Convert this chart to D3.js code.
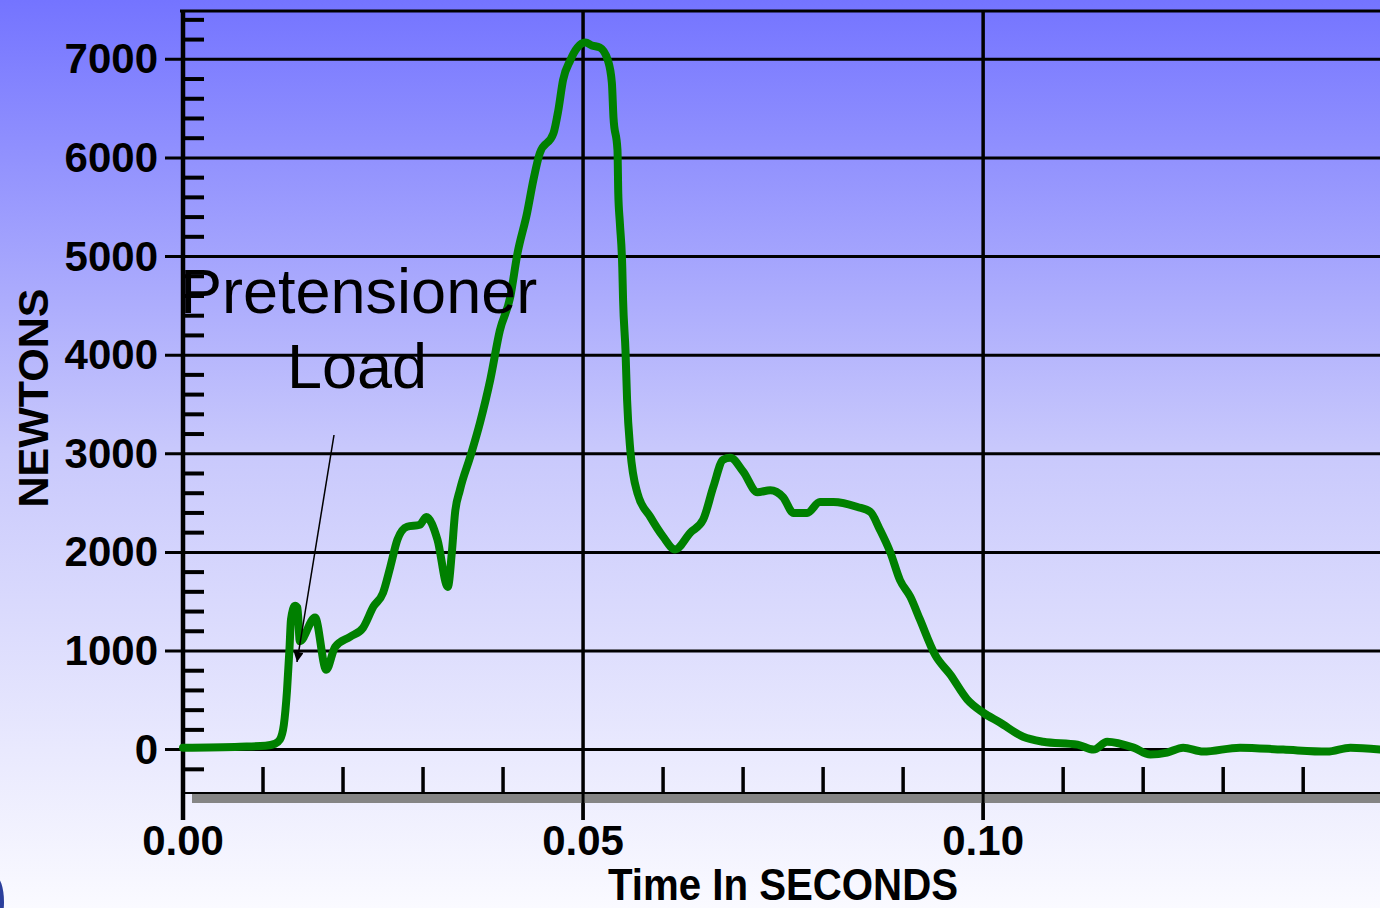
<!DOCTYPE html>
<html>
<head>
<meta charset="utf-8">
<script src="https://cdn.jsdelivr.net/npm/d3@7"></script>
<style>
  body { margin: 0; overflow: hidden; }
  text { font-family: "Liberation Sans", Arial, sans-serif; }
</style>
</head>
<body>
<div id="chart"></div>
<script>
var w = 1380, h = 908;

// Data ======================================================
var timeSec = [0, 0.0071, 0.0103, 0.0115, 0.0121, 0.0126, 0.0130, 0.0133, 0.0135, 0.0140, 0.0143,
  0.0146, 0.0165, 0.0179, 0.0190, 0.0209, 0.0225, 0.0238, 0.0250, 0.0259, 0.0268, 0.0280,
  0.0296, 0.0304, 0.0318, 0.0331, 0.0336, 0.0340, 0.0346, 0.0359, 0.0371, 0.0384, 0.0396,
  0.0409, 0.0418, 0.0430, 0.0438, 0.0446, 0.0463, 0.0469, 0.0475, 0.0484, 0.0493, 0.0503,
  0.0511, 0.0521, 0.0531, 0.0536, 0.0538, 0.0543, 0.0544, 0.0546, 0.0549, 0.0550, 0.0553,
  0.0555, 0.0559, 0.0568, 0.0584, 0.0600, 0.0615, 0.0634, 0.0650, 0.0663, 0.0675, 0.0684,
  0.0700, 0.0718, 0.0734, 0.0750, 0.0763, 0.0780, 0.0796, 0.0813, 0.0843, 0.0859, 0.0871,
  0.0884, 0.0896, 0.0909, 0.0921, 0.0940, 0.0959, 0.0980, 0.1000, 0.1021, 0.1050, 0.1075,
  0.1118, 0.1138, 0.1155, 0.1188, 0.1209, 0.1230, 0.1250, 0.1275, 0.1321, 0.1375, 0.1430,
  0.1459, 0.1496];
var newtons = [20, 30, 40, 60, 100, 250, 600, 1010, 1320, 1460, 1440,
  1100, 1340, 810, 1040, 1145, 1235, 1450, 1590, 1850, 2130, 2260,
  2280, 2360, 2130, 1650, 2000, 2400, 2630, 2970, 3310, 3750, 4250,
  4590, 5030, 5440, 5780, 6050, 6250, 6480, 6790, 6990, 7120, 7170,
  7140, 7120, 6990, 6760, 6410, 6080, 5640, 5340, 4890, 4560, 4050,
  3550, 3040, 2600, 2360, 2160, 2030, 2200, 2330, 2670, 2940, 2960,
  2820, 2610, 2630, 2560, 2400, 2400, 2510, 2510, 2460, 2410, 2230,
  2000, 1720, 1550, 1320, 960, 760, 510, 375, 275, 130, 80,
  50, 0, 80, 20, -50, -30, 20, -20, 20, 0, -20,
  20, 0];

var yMajor = [0, 1000, 2000, 3000, 4000, 5000, 6000, 7000];
var xMajor = [0, 0.05, 0.10];
var xLabels = ["0.00", "0.05", "0.10"];
var yMinor = d3.range(-200, 7500, 200).filter(function(v){ return v % 1000 !== 0; });
var xMinor = d3.range(1, 15).map(function(i){ return i / 100; }).filter(function(v){ return Math.abs(v - 0.05) > 1e-9 && Math.abs(v - 0.10) > 1e-9; });
// ===========================================================

var svg = d3.select('#chart')
            .append('svg')
            .attr('width', w)
            .attr('height', h);

// background gradient
var grad = svg.append('defs').append('linearGradient')
              .attr('id', 'bg').attr('x1', 0).attr('y1', 0).attr('x2', 0).attr('y2', 1);
grad.append('stop').attr('offset', '0%').attr('stop-color', '#7474ff');
grad.append('stop').attr('offset', '50%').attr('stop-color', '#c9c9fc');
grad.append('stop').attr('offset', '100%').attr('stop-color', '#fafaff');
svg.append('rect').attr('width', w).attr('height', h).attr('fill', 'url(#bg)');

var x = d3.scaleLinear().domain([0, 0.1496]).range([183, 1380]);
var y = d3.scaleLinear().domain([-440, 7500]).range([793, 10]);

// Grid ======================================================
svg.selectAll('.hgrid')
   .data(yMajor)
   .enter().append('line')
   .attr('x1', 165).attr('x2', w)
   .attr('y1', function(d){ return y(d); })
   .attr('y2', function(d){ return y(d); })
   .attr('stroke', 'black').attr('stroke-width', 3);

svg.append('line')
   .attr('x1', 180).attr('x2', w)
   .attr('y1', y(7500) + 1).attr('y2', y(7500) + 1)
   .attr('stroke', 'black').attr('stroke-width', 3);

svg.selectAll('.vgrid')
   .data(xMajor)
   .enter().append('line')
   .attr('x1', function(d){ return x(d); })
   .attr('x2', function(d){ return x(d); })
   .attr('y1', y(7500)).attr('y2', 820)
   .attr('stroke', 'black')
   .attr('stroke-width', function(d, i){ return i === 0 ? 4.5 : 3.5; });

// minor ticks
svg.selectAll('.ytick')
   .data(yMinor)
   .enter().append('line')
   .attr('x1', 182).attr('x2', 204)
   .attr('y1', function(d){ return y(d); })
   .attr('y2', function(d){ return y(d); })
   .attr('stroke', 'black').attr('stroke-width', 4);

svg.selectAll('.xtick')
   .data(xMinor)
   .enter().append('line')
   .attr('x1', function(d){ return x(d); })
   .attr('x2', function(d){ return x(d); })
   .attr('y1', 767).attr('y2', 793)
   .attr('stroke', 'black').attr('stroke-width', 3.5);

// bottom border + grey bar
svg.append('line')
   .attr('x1', 183).attr('x2', w)
   .attr('y1', 793).attr('y2', 793)
   .attr('stroke', 'black').attr('stroke-width', 2);
svg.append('rect')
   .attr('x', 192).attr('y', 794).attr('width', w - 192).attr('height', 9)
   .attr('fill', '#858585');
svg.selectAll('.vstub')
   .data(xMajor)
   .enter().append('line')
   .attr('x1', function(d){ return x(d); })
   .attr('x2', function(d){ return x(d); })
   .attr('y1', 794).attr('y2', 820)
   .attr('stroke', 'black').attr('stroke-width', 3);
// ===========================================================

// Labels ====================================================
svg.selectAll('.ylab')
   .data(yMajor)
   .enter().append('text')
   .attr('x', 158)
   .attr('y', function(d){ return y(d) + 14; })
   .attr('text-anchor', 'end')
   .attr('font-weight', 'bold')
   .attr('font-size', 42)
   .text(function(d){ return d; });

svg.selectAll('.xlab')
   .data(xMajor)
   .enter().append('text')
   .attr('x', function(d){ return x(d); })
   .attr('y', 855)
   .attr('text-anchor', 'middle')
   .attr('font-weight', 'bold')
   .attr('font-size', 42)
   .text(function(d, i){ return xLabels[i]; });

svg.append('text')
   .attr('transform', 'translate(48,398) rotate(-90)')
   .attr('text-anchor', 'middle')
   .attr('font-weight', 'bold')
   .attr('font-size', 43)
   .text('NEWTONS');

svg.append('text')
   .attr('x', 608).attr('y', 900)
   .attr('font-weight', 'bold')
   .attr('font-size', 44)
   .attr('textLength', 350)
   .attr('lengthAdjust', 'spacingAndGlyphs')
   .text('Time In SECONDS');
// ===========================================================

// Curve =====================================================
var pts = timeSec.map(function(t, i){ return [t, newtons[i]]; });
var line = d3.line()
             .x(function(d){ return x(d[0]); })
             .y(function(d){ return y(d[1]); })
             .curve(d3.curveMonotoneX);
svg.append('path')
   .datum(pts)
   .attr('d', line)
   .attr('fill', 'none')
   .attr('stroke', '#008000')
   .attr('stroke-width', 8)
   .attr('stroke-linejoin', 'round')
   .attr('stroke-linecap', 'round');
// ===========================================================

// Annotation ================================================
svg.append('text')
   .attr('x', 180).attr('y', 313)
   .attr('font-size', 63)
   .text('Pretensioner');
svg.append('text')
   .attr('x', 357).attr('y', 388)
   .attr('text-anchor', 'middle')
   .attr('font-size', 63)
   .text('Load');

svg.append('defs').append('marker')
   .attr('id', 'arrow')
   .attr('viewBox', '0 0 10 10')
   .attr('refX', 10).attr('refY', 5)
   .attr('markerWidth', 12).attr('markerHeight', 10)
   .attr('markerUnits', 'userSpaceOnUse')
   .attr('orient', 'auto')
   .append('path').attr('d', 'M0,0 L10,5 L0,10 z').attr('fill', 'black');
svg.append('line')
   .attr('x1', 334).attr('y1', 435)
   .attr('x2', 297).attr('y2', 662)
   .attr('stroke', 'black').attr('stroke-width', 1.5)
   .attr('marker-end', 'url(#arrow)');

// stray blue shape at the corner
svg.append('ellipse')
   .attr('cx', -5).attr('cy', 902).attr('rx', 9).attr('ry', 26)
   .attr('fill', '#2b3f9c');
// ===========================================================
</script>
</body>
</html>
